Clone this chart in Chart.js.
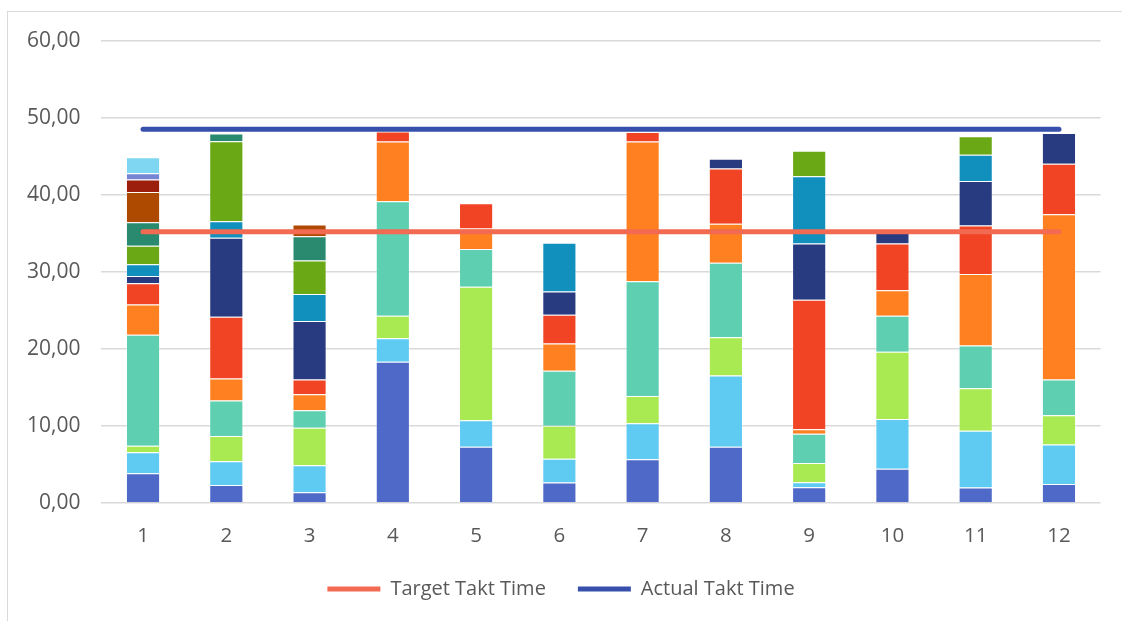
<!DOCTYPE html>
<html>
<head>
<meta charset="utf-8">
<script src="https://cdn.jsdelivr.net/npm/chart.js@4/dist/chart.umd.min.js"></script>
<style>
  html, body { margin: 0; padding: 0; background: #fff; }
  #wrap { position: relative; width: 1122px; height: 621px; overflow: hidden; }
  #frame { position: absolute; left: 7px; top: 11px; width: 1200px; height: 700px;
           border-top: 1.5px solid #d9d9d9; border-left: 1.5px solid #d9d9d9; }
  #c { position: absolute; left: 0; top: 0; }
</style>
</head>
<body>
<div id="wrap">
  <div id="frame"></div>
  <canvas id="c" width="1122" height="621"></canvas>
</div>
<script>
// Workstations on the x axis
const stations = ['1', '2', '3', '4', '5', '6', '7', '8', '9', '10', '11', '12'];

// Task times per station, stacked bottom to top
const task1  = [3.88, 2.36, 1.42, 18.35, 7.31, 2.66, 5.68, 7.31, 2.07, 4.47, 2.02, 2.49];
const task2  = [2.71, 3.07, 3.49, 3.05, 3.45, 3.10, 4.69, 9.27, 0.64, 6.46, 7.36, 5.13];
const task3  = [0.85, 3.27, 4.86, 2.93, 17.32, 4.27, 3.53, 4.97, 2.50, 8.71, 5.52, 3.79];
const task4  = [14.43, 4.61, 2.28, 14.86, 4.90, 7.15, 14.91, 9.66, 3.78, 4.69, 5.55, 4.65];
const task5  = [3.92, 2.88, 2.07, 7.75, 2.68, 3.53, 18.13, 5.07, 0.61, 3.32, 9.30, 21.45];
const task6  = [2.76, 8.01, 1.93, 1.30, 3.27, 3.75, 1.26, 7.15, 16.80, 6.07, 6.30, 6.55];
const task7  = [0.95, 10.25, 7.58, null, null, 3.03, null, 1.29, 7.32, 1.48, 5.76, 4.00];
const task8  = [1.50, 2.15, 3.53, null, null, 6.33, null, null, 8.73, null, 3.41, null];
const task9  = [2.41, 10.38, 4.35, null, null, null, null, null, 3.29, null, 2.40, null];
const task10 = [3.06, 1.02, 3.15, null, null, null, null, null, null, null, null, null];
const task11 = [3.92, null, 1.50, null, null, null, null, null, null, null, null, null];
const task12 = [1.64, null, null, null, null, null, null, null, null, null, null, null];
const task13 = [0.81, null, null, null, null, null, null, null, null, null, null, null];
const task14 = [2.06, null, null, null, null, null, null, null, null, null, null, null];

// Takt time reference lines
const targetTakt = [35.22, 35.22, 35.22, 35.22, 35.22, 35.22, 35.22, 35.22, 35.22, 35.22, 35.22, 35.22];
const actualTakt = [48.55, 48.55, 48.55, 48.55, 48.55, 48.55, 48.55, 48.55, 48.55, 48.55, 48.55, 48.55];

// Y axis ticks
const yTicks = [0, 10, 20, 30, 40, 50, 60];

const tasks = [task1, task2, task3, task4, task5, task6, task7, task8, task9, task10, task11, task12, task13, task14];
const taskColors = ['#4f69c8', '#5fcbf2', '#a9ea52', '#5ecfb1', '#ff8021', '#f04424', '#283a80',
                    '#1190be', '#6aa815', '#2a8a6f', '#ae4a00', '#9c1e0c', '#7685d3', '#7ed6f3'];

const FONT = "'Open Sans', 'Noto Sans', sans-serif";
const TEXT = '#595959';

const datasets = tasks.map((d, i) => ({
  type: 'bar',
  label: 'Task ' + (i + 1),
  data: d,
  backgroundColor: taskColors[i],
  borderColor: 'rgba(255,255,255,0.35)',
  borderWidth: 1,
  stack: 'tasks',
  order: 2,
  categoryPercentage: 1.0,
  barPercentage: 0.41
}));

datasets.push({
  type: 'line',
  label: 'Target Takt Time',
  data: targetTakt,
  borderColor: '#f26a52',
  backgroundColor: '#f26a52',
  borderWidth: 5,
  borderCapStyle: 'round',
  pointRadius: 0,
  pointStyle: 'line',
  stack: 'target',
  order: 0
});
datasets.push({
  type: 'line',
  label: 'Actual Takt Time',
  data: actualTakt,
  borderColor: '#3650ab',
  backgroundColor: '#3650ab',
  borderWidth: 5,
  borderCapStyle: 'round',
  pointRadius: 0,
  pointStyle: 'line',
  stack: 'actual',
  order: 0
});

new Chart(document.getElementById('c'), {
  data: { labels: stations, datasets },
  options: {
    responsive: false,
    animation: false,
    layout: { padding: { left: 0, right: 0, top: 41, bottom: 12 } },
    plugins: {
      tooltip: { enabled: false },
      legend: {
        position: 'bottom',
        labels: {
          filter: (item) => item.datasetIndex >= tasks.length,
          usePointStyle: true,
          pointStyleWidth: 53,
          boxHeight: 20,
          padding: 32,
          color: TEXT,
          font: { family: FONT, size: 20 }
        }
      }
    },
    scales: {
      x: {
        stacked: true,
        grid: { display: false, drawTicks: false },
        border: { display: false },
        ticks: { color: TEXT, font: { family: FONT, size: 20.5 }, padding: 20.5 },
        afterFit: (s) => { s.height = 43.9; }
      },
      y: {
        stacked: true,
        min: 0,
        max: 60,
        afterBuildTicks: (s) => { s.ticks = yTicks.map(v => ({ value: v })); },
        grid: { color: '#d9d9d9', lineWidth: 1.5, drawTicks: false },
        border: { display: false },
        ticks: {
          color: TEXT,
          font: { family: FONT, size: 21 },
          padding: 21,
          callback: (v) => Number(v).toFixed(2).replace('.', ',')
        },
        afterFit: (s) => { s.width = 101.4; }
      },
      // empty right-hand margin axis, keeps the plot clear of the right edge
      yRight: {
        position: 'right',
        display: true,
        grid: { display: false, drawTicks: false },
        border: { display: false },
        ticks: { display: false },
        afterFit: (s) => { s.width = 21.4; }
      }
    }
  }
});
</script>
</body>
</html>
